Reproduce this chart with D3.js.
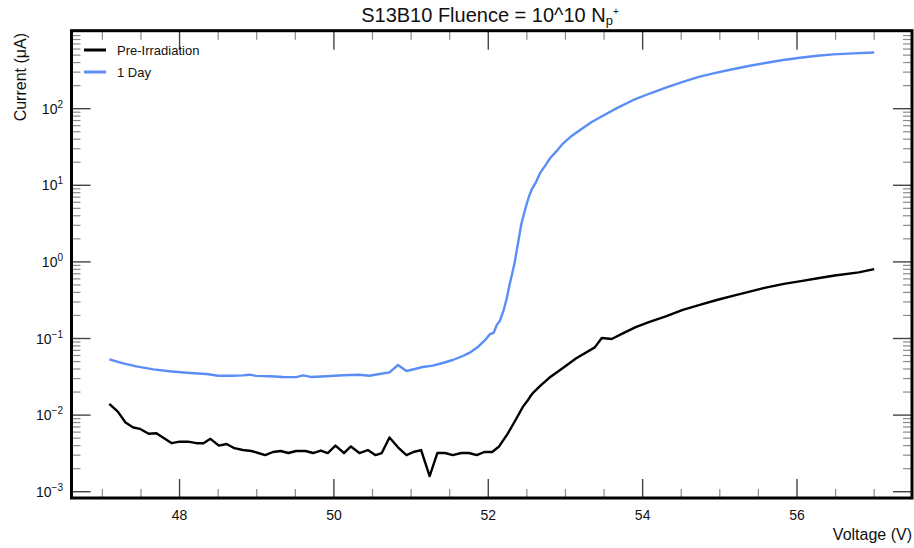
<!DOCTYPE html>
<html>
<head>
<meta charset="utf-8">
<script src="https://cdn.jsdelivr.net/npm/d3@7"></script>
<style>
  html, body { margin: 0; padding: 0; background: #fff; }
  svg { display: block; font-family: "Liberation Sans", Arial, Helvetica, sans-serif; }
</style>
</head>
<body>
<svg id="chart" width="914" height="548"></svg>
<script>
// ---- Data ----
const titleText = "S13B10 Fluence = 10^10 N";
const xTitle = "Voltage (V)";
const yTitle = "Current (\u03bcA)";
const seriesNames = ["Pre-Irradiation", "1 Day"];
const seriesColors = ["#000000", "#5b8ef5"];

const xTickValues = [48, 50, 52, 54, 56];
const yDecades = [-3, -2, -1, 0, 1, 2];

// Pre-Irradiation: voltage (V) and current (uA)
const preV = [47.09, 47.20, 47.30, 47.40, 47.49, 47.60, 47.70, 47.81, 47.90, 48.00,
              48.11, 48.22, 48.31, 48.40, 48.51, 48.61, 48.71, 48.82, 48.93, 49.02,
              49.11, 49.21, 49.31, 49.41, 49.51, 49.63, 49.73, 49.83, 49.92, 50.02,
              50.13, 50.22, 50.33, 50.44, 50.54, 50.62, 50.72, 50.83, 50.94, 51.03,
              51.13, 51.24, 51.34, 51.44, 51.54, 51.65, 51.75, 51.85, 51.95, 52.05,
              52.14, 52.25, 52.35, 52.45, 52.51, 52.55, 52.59, 52.68, 52.79, 52.94,
              53.14, 53.38, 53.47, 53.60, 53.73, 53.91, 54.08, 54.30, 54.52, 54.74,
              54.96, 55.18, 55.40, 55.61, 55.83, 56.05, 56.27, 56.49, 56.80, 57.00];
const preI = [0.0140, 0.0111, 0.0080, 0.0069, 0.0066, 0.0057, 0.0058, 0.0049, 0.0043, 0.0045,
              0.0045, 0.0043, 0.0043, 0.0049, 0.0040, 0.0042, 0.0037, 0.0035, 0.0034, 0.0032,
              0.0030, 0.0033, 0.0034, 0.0032, 0.0034, 0.0034, 0.0032, 0.00345, 0.0032, 0.0040,
              0.0032, 0.0039, 0.0032, 0.0035, 0.0030, 0.0032, 0.0051, 0.0038, 0.0030, 0.0033,
              0.0035, 0.0016, 0.0032, 0.0032, 0.0030, 0.0032, 0.0032, 0.0030, 0.0033, 0.0033,
              0.0039, 0.0057, 0.0085, 0.0129, 0.0155, 0.0179, 0.0200, 0.0245, 0.0307, 0.0395,
              0.0553, 0.0766, 0.1016, 0.0986, 0.115, 0.1406, 0.164, 0.195, 0.237, 0.275,
              0.318, 0.362, 0.412, 0.466, 0.516, 0.560, 0.612, 0.664, 0.730, 0.805];

// 1 Day: voltage (V) and current (uA)
const dayV = [47.09, 47.27, 47.44, 47.66, 47.87, 48.09, 48.35, 48.50, 48.69, 48.82,
              48.91, 48.99, 49.17, 49.34, 49.51, 49.60, 49.70, 49.90, 50.12, 50.33,
              50.46, 50.59, 50.72, 50.83, 50.94, 51.05, 51.15, 51.28, 51.41, 51.54,
              51.67, 51.76, 51.86, 51.96, 52.02, 52.07, 52.11, 52.15, 52.20, 52.24,
              52.27, 52.30, 52.34, 52.37, 52.40, 52.43, 52.47, 52.50, 52.53, 52.56,
              52.62, 52.67, 52.74, 52.80, 52.89, 52.97, 53.08, 53.19, 53.34, 53.45,
              53.66, 53.88, 54.10, 54.31, 54.53, 54.74, 54.96, 55.18, 55.39, 55.61,
              55.82, 56.04, 56.26, 56.47, 56.73, 57.00];
const dayI = [0.0535, 0.0474, 0.0433, 0.0396, 0.0373, 0.0358, 0.0344, 0.0327, 0.0327, 0.0330,
              0.0337, 0.0325, 0.0322, 0.0314, 0.0313, 0.0330, 0.0315, 0.0322, 0.0332, 0.0337,
              0.0327, 0.0344, 0.0362, 0.0451, 0.0377, 0.0400, 0.0425, 0.0442, 0.0479, 0.0524,
              0.0591, 0.0653, 0.0767, 0.0957, 0.1135, 0.119, 0.150, 0.170, 0.236, 0.335,
              0.475, 0.641, 0.96, 1.43, 2.13, 3.19, 4.52, 5.82, 7.25, 8.69,
              11.1, 14.4, 18.2, 22.5, 28.3, 35.3, 44.1, 52.7, 67.0, 77.3,
              101, 130, 159, 190, 225, 262, 295, 330, 364, 398,
              432, 463, 490, 512, 528, 542];

// ---- Layout ----
const svg = d3.select("#chart");
const pLeft = 71.5, pRight = 912, pTop = 30.7, pBottom = 498;

const x = d3.scaleLinear().domain([46.6, 57.49]).range([pLeft, pRight]);
const y = d3.scaleLog().domain([Math.pow(10, -3.082), Math.pow(10, 3.018)]).range([pBottom, pTop]);

const majorLen = 19, minorLen = 9;
const majorColor = "#444", minorColor = "#8a8a8a";

const g = svg.append("g");

// X ticks (bottom and top, inward)
const xMinor = d3.range(47, 57.01, 0.5).filter(v => xTickValues.indexOf(v) < 0);
xMinor.forEach(v => {
  g.append("line").attr("x1", x(v)).attr("x2", x(v)).attr("y1", pBottom).attr("y2", pBottom - minorLen)
    .attr("stroke", minorColor).attr("stroke-width", 1.2);
  g.append("line").attr("x1", x(v)).attr("x2", x(v)).attr("y1", pTop).attr("y2", pTop + minorLen)
    .attr("stroke", minorColor).attr("stroke-width", 1.2);
});
xTickValues.forEach(v => {
  g.append("line").attr("x1", x(v)).attr("x2", x(v)).attr("y1", pBottom).attr("y2", pBottom - majorLen)
    .attr("stroke", majorColor).attr("stroke-width", 1.4);
  g.append("line").attr("x1", x(v)).attr("x2", x(v)).attr("y1", pTop).attr("y2", pTop + majorLen)
    .attr("stroke", majorColor).attr("stroke-width", 1.4);
  g.append("text").attr("x", x(v)).attr("y", 515).attr("text-anchor", "middle")
    .attr("dominant-baseline", "central").attr("font-size", 14).attr("fill", "#111").text(v);
});

// Y ticks (left and right, inward)
const yMinor = [];
yDecades.forEach(d => { for (let k = 2; k <= 9; k++) yMinor.push(k * Math.pow(10, d)); });
yMinor.forEach(v => {
  g.append("line").attr("x1", pLeft).attr("x2", pLeft + minorLen).attr("y1", y(v)).attr("y2", y(v))
    .attr("stroke", minorColor).attr("stroke-width", 1.2);
  g.append("line").attr("x1", pRight).attr("x2", pRight - minorLen).attr("y1", y(v)).attr("y2", y(v))
    .attr("stroke", minorColor).attr("stroke-width", 1.2);
});
yDecades.forEach(d => {
  const v = Math.pow(10, d);
  g.append("line").attr("x1", pLeft).attr("x2", pLeft + majorLen).attr("y1", y(v)).attr("y2", y(v))
    .attr("stroke", majorColor).attr("stroke-width", 1.4);
  g.append("line").attr("x1", pRight).attr("x2", pRight - majorLen).attr("y1", y(v)).attr("y2", y(v))
    .attr("stroke", majorColor).attr("stroke-width", 1.4);
  const t = g.append("text").attr("x", 63).attr("y", y(v) + 5).attr("text-anchor", "end")
    .attr("font-size", 14).attr("fill", "#111");
  t.append("tspan").text("10");
  t.append("tspan").attr("dy", -6).attr("font-size", 10).text(d < 0 ? "\u2212" + (-d) : d);
});

// Lines
const line = d3.line().x(d => x(d[0])).y(d => y(d[1]));
const preData = preV.map((v, i) => [v, preI[i]]);
const dayData = dayV.map((v, i) => [v, dayI[i]]);
g.append("path").datum(preData).attr("d", line).attr("fill", "none")
  .attr("stroke", seriesColors[0]).attr("stroke-width", 2.4).attr("stroke-linejoin", "round");
g.append("path").datum(dayData).attr("d", line).attr("fill", "none")
  .attr("stroke", seriesColors[1]).attr("stroke-width", 2.4).attr("stroke-linejoin", "round");

// Frame
g.append("rect").attr("x", pLeft).attr("y", pTop).attr("width", pRight - pLeft).attr("height", pBottom - pTop)
  .attr("fill", "none").attr("stroke", "#000").attr("stroke-width", 3);

// Legend
seriesNames.forEach((name, i) => {
  const ly = 50 + i * 22;
  g.append("line").attr("x1", 84).attr("x2", 106).attr("y1", ly).attr("y2", ly)
    .attr("stroke", seriesColors[i]).attr("stroke-width", 3);
  g.append("text").attr("x", 117).attr("y", ly).attr("dominant-baseline", "central")
    .attr("font-size", 13).attr("fill", "#111").text(name);
});

// Title
const tt = svg.append("text").attr("x", 490).attr("y", 15).attr("text-anchor", "middle")
  .attr("dominant-baseline", "central").attr("font-size", 20).attr("fill", "#111");
tt.append("tspan").text(titleText);
tt.append("tspan").attr("dy", 5).attr("font-size", 13).text("p");
tt.append("tspan").attr("dy", -9).attr("font-size", 10).text("+");

// Axis titles
svg.append("text").attr("x", 912).attr("y", 540).attr("text-anchor", "end")
  .attr("font-size", 16).attr("fill", "#111").text(xTitle);
svg.append("text").attr("transform", "translate(26,33) rotate(-90)").attr("text-anchor", "end")
  .attr("font-size", 16).attr("fill", "#111").text(yTitle);
</script>
</body>
</html>
